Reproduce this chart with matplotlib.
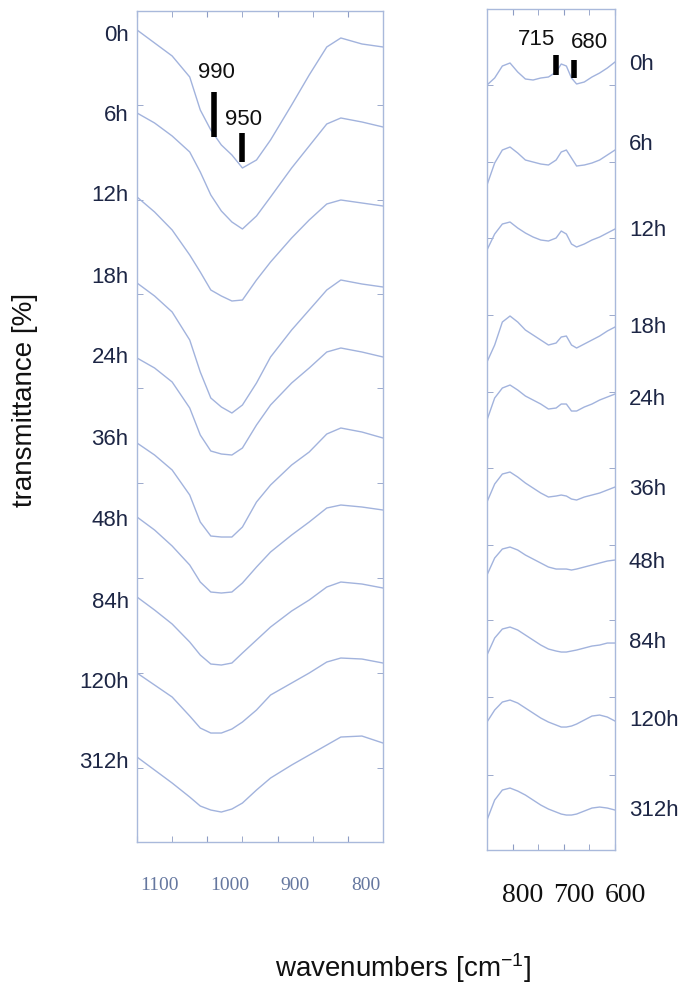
import matplotlib.pyplot as plt
from matplotlib.transforms import ScaledTranslation

plt.rcParams["font.family"] = ["Liberation Sans", "DejaVu Sans"]
plt.rcParams["mathtext.default"] = "regular"

horas = ["0h", "6h", "12h", "18h", "24h", "36h", "48h", "84h", "120h", "312h"]

# banda Si-O (1100-750 cm-1), transmitancia con desplazamiento
wn_si = [1100, 1075, 1050, 1025, 1010, 995, 980, 965, 950, 930, 910, 880, 855, 830, 810, 780, 750]
si_0h = [820, 807, 794, 773, 740, 720, 705, 695, 682, 690, 710, 745, 775, 803, 812, 806, 803]
si_6h = [737, 727, 714, 698, 678, 655, 639, 628, 621, 634, 653, 682, 704, 726, 732, 728, 723]
si_12h = [653, 638, 620, 595, 578, 560, 554, 549, 550, 570, 588, 612, 630, 646, 650, 647, 644]
si_18h = [567, 554, 538, 510, 478, 452, 443, 437, 445, 467, 493, 520, 540, 560, 570, 566, 563]
si_24h = [492, 482, 468, 442, 415, 399, 396, 395, 402, 425, 445, 467, 482, 498, 502, 498, 493]
si_36h = [407, 395, 380, 355, 328, 314, 313, 313, 323, 348, 365, 385, 398, 416, 422, 418, 412]
si_48h = [333, 320, 304, 285, 268, 258, 257, 258, 267, 283, 298, 315, 328, 342, 345, 343, 340]
si_84h = [253, 240, 226, 208, 195, 186, 185, 187, 197, 210, 223, 239, 250, 263, 268, 266, 262]
si_120h = [177, 165, 153, 134, 122, 117, 117, 121, 128, 140, 155, 167, 177, 188, 192, 191, 187]
si_312h = [93, 80, 67, 53, 44, 40, 38, 41, 47, 60, 72, 85, 95, 105, 113, 114, 107]
etiq_si = [817, 737, 657, 575, 495, 413, 332, 250, 170, 90]

# zona 850-600 cm-1
wn_ox = [850, 835, 820, 805, 790, 775, 760, 745, 730, 715, 705, 695, 685, 675, 660, 645, 630, 615, 600]
ox_0h = [765, 772, 784, 787, 778, 771, 770, 772, 773, 778, 786, 784, 772, 766, 768, 773, 777, 782, 788]
ox_6h = [665, 687, 700, 703, 697, 690, 688, 686, 685, 690, 698, 700, 692, 684, 685, 687, 690, 695, 700]
ox_12h = [600, 616, 626, 628, 622, 617, 613, 610, 609, 612, 619, 616, 606, 603, 606, 610, 613, 617, 621]
ox_18h = [488, 505, 528, 534, 528, 520, 515, 510, 505, 507, 513, 514, 505, 502, 506, 510, 514, 519, 523]
ox_24h = [430, 452, 462, 465, 460, 454, 450, 446, 441, 442, 446, 446, 439, 439, 443, 446, 450, 453, 456]
ox_36h = [348, 366, 376, 378, 373, 367, 362, 357, 353, 354, 355, 354, 351, 350, 353, 355, 357, 360, 363]
ox_48h = [275, 292, 301, 303, 300, 295, 291, 287, 283, 281, 281, 281, 280, 281, 283, 285, 287, 289, 290]
ox_84h = [195, 212, 221, 223, 220, 215, 210, 205, 201, 199, 198, 198, 199, 200, 202, 204, 205, 207, 207]
ox_120h = [128, 140, 148, 150, 147, 142, 137, 132, 128, 125, 123, 123, 124, 126, 130, 134, 135, 133, 129]
ox_312h = [30, 50, 60, 62, 59, 55, 50, 45, 41, 38, 36, 35, 35, 36, 39, 42, 43, 42, 40]
etiq_ox = [788, 708, 622, 525, 453, 363, 290, 210, 132, 42]

# bandas marcadas: posicion, extremo inferior y superior de la barra
picos_si = [990, 950]
picos_si_y = [(713, 758), (688, 717)]
picos_ox = [715, 680]
picos_ox_y = [(775, 795), (772, 790)]

espectros_si = [si_0h, si_6h, si_12h, si_18h, si_24h, si_36h, si_48h, si_84h, si_120h, si_312h]
espectros_ox = [ox_0h, ox_6h, ox_12h, ox_18h, ox_24h, ox_36h, ox_48h, ox_84h, ox_120h, ox_312h]

color_linea = "#a2b3dd"
color_marco = "#a9b9db"
color_texto = "#1d2645"

fig = plt.figure(figsize=(6.81, 9.89), dpi=100)
ax1 = fig.add_axes([0.2012, 0.1486, 0.3612, 0.8403])
ax2 = fig.add_axes([0.7151, 0.1405, 0.1880, 0.8504])

for ax in (ax1, ax2):
    for s in ax.spines.values():
        s.set_color(color_marco)
        s.set_linewidth(1.0)

# panel izquierdo
for y in espectros_si:
    ax1.plot(wn_si, y, color=color_linea, lw=1.0, solid_joinstyle="round")
ax1.set_xlim(1100, 750)
ax1.set_ylim(8, 839)
ax1.set_xticks([1100, 1000, 900, 800], ["1100", "1000", "900", "800"])
ax1.set_xticks([1050, 950, 850], minor=True)
ax1.tick_params(axis="x", which="both", direction="in", top=True, bottom=True,
                length=4, color="#8d9cc4", pad=25, labelsize=14, labelcolor="#65779f")
corre = ScaledTranslation(0.03, 0, fig.dpi_scale_trans)
for lbl in ax1.get_xticklabels():
    lbl.set_fontfamily("Liberation Serif")
    lbl.set_horizontalalignment("left")
    lbl.set_transform(lbl.get_transform() + corre)
ax1.set_yticks(etiq_si, horas)
ax1.set_yticks([745, 650, 556, 462, 367, 272, 177, 82], minor=True)
ax1.tick_params(axis="y", which="major", length=0, pad=6, labelsize=16, labelcolor=color_texto)
ax1.tick_params(axis="y", which="minor", direction="in", left=True, right=True,
                length=4, color="#8d9cc4")

for x, (y0, y1) in zip(picos_si, picos_si_y):
    ax1.vlines(x, y0, y1, color="black", lw=4)
ax1.annotate(str(picos_si[0]), (picos_si[0], picos_si_y[0][1]), xytext=(2, 9),
             textcoords="offset pixels", ha="center", va="bottom", fontsize=16, color="#111111")
ax1.annotate(str(picos_si[1]), (picos_si[1], picos_si_y[1][1]), xytext=(1, 3),
             textcoords="offset pixels", ha="center", va="bottom", fontsize=16, color="#111111")

# panel derecho
for y in espectros_ox:
    ax2.plot(wn_ox, y, color=color_linea, lw=1.0, solid_joinstyle="round")
ax2.set_xlim(850, 600)
ax2.set_ylim(0, 841)
ax2.set_xticks([800, 700, 600], ["800", "700", "600"])
ax2.set_xticks([750, 650], minor=True)
ax2.tick_params(axis="x", which="both", direction="in", top=True, bottom=True,
                length=4, color="#8d9cc4", pad=24, labelsize=20, labelcolor="#111111")
desplaza = ScaledTranslation(0.1, 0, fig.dpi_scale_trans)
for lbl in ax2.get_xticklabels():
    lbl.set_fontfamily("Liberation Serif")
    lbl.set_transform(lbl.get_transform() + desplaza)
ax2.set_yticks(etiq_ox, horas)
ax2.set_yticks([765, 688, 612, 535, 458, 382, 305, 230, 153, 75], minor=True)
ax2.tick_params(axis="y", which="major", left=False, right=True, labelleft=False,
                labelright=True, length=0, pad=10, labelsize=16, labelcolor=color_texto)
ax2.tick_params(axis="y", which="minor", direction="in", left=True, right=True,
                length=4, color="#8d9cc4")

for x, (y0, y1) in zip(picos_ox, picos_ox_y):
    ax2.vlines(x, y0, y1, color="black", lw=4)
ax2.annotate(str(picos_ox[0]), (picos_ox[0], picos_ox_y[0][1]), xytext=(-20, 5),
             textcoords="offset pixels", ha="center", va="bottom", fontsize=16, color="#111111")
ax2.annotate(str(picos_ox[1]), (picos_ox[1], picos_ox_y[1][1]), xytext=(15, 7),
             textcoords="offset pixels", ha="center", va="bottom", fontsize=16, color="#111111")

fig.text(0.037, 0.596, "transmittance [%]", rotation=90, ha="center", va="center",
         fontsize=20, color="#111111")
fig.text(0.592, 0.021, "wavenumbers [cm$^{-1}$]", ha="center", va="center",
         fontsize=20, color="#111111")

fig.savefig("out.png", dpi=100)
